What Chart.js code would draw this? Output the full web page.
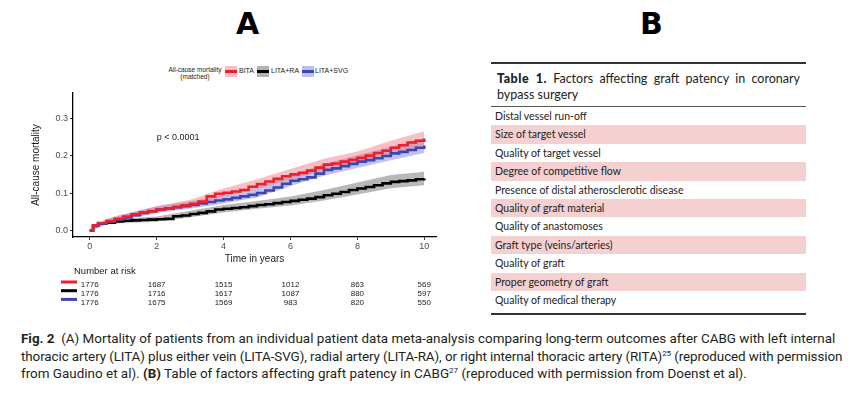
<!DOCTYPE html>
<html>
<head>
<meta charset="utf-8">
<script src="https://cdn.jsdelivr.net/npm/chart.js@4.4.1/dist/chart.umd.min.js"></script>
<style>
  html, body { margin: 0; padding: 0; background: #fff; }
  body { width: 867px; height: 394px; position: relative; overflow: hidden; font-family: "Liberation Sans", Arial, sans-serif; }
  .panel-letter { position: absolute; top: 6px; font-family: "DejaVu Sans", sans-serif; font-weight: 900; font-size: 30px; color: #000; }
  #chartBox { position: absolute; left: 30px; top: 55px; width: 430px; height: 260px; }
  .lg { position: absolute; font-size: 7px; color: #222; white-space: nowrap; }
  .key { position: absolute; width: 12px; height: 11px; }
  .key i { position: absolute; left: 0; right: 0; top: 4px; height: 3px; }
  #tbl { position: absolute; left: 491px; top: 62px; width: 315px; font-family: Lato, "Open Sans", sans-serif; color: #222; }
  #tbl .rule-top { border-top: 2px solid #333; }
  #tbl .ttl { padding: 7px 6px 0 6px; font-size: 12.5px; line-height: 16px; text-align: justify; height: 35px; }
  #tbl .ttl b { font-weight: 900; letter-spacing: 0.5px; }
  #tbl .rule-mid { border-top: 1px solid #555; }
  #tbl .row { height: 18.4px; line-height: 18.4px; font-size: 10.5px; padding-left: 4px; white-space: nowrap; }
  #tbl .row.pink { background: #f4d1d0; }
  #tbl .rule-bot { border-top: 2px solid #333; margin-top: 4px; }
  .cap { position: absolute; left: 21px; font-family: "Liberation Sans Narrow", Roboto, sans-serif; font-size: 13.45px; color: #231f20; white-space: nowrap; }
  .cap sup { font-size: 8px; vertical-align: 5px; line-height: 0; }
</style>
</head>
<body>

<div class="panel-letter" style="left:236px;">A</div>
<div class="panel-letter" style="left:640px;">B</div>

<!-- legend of panel A -->
<div class="lg" style="left:166px; top:66px; width:58px; text-align:center; font-size:6.5px; line-height:7px;">All-cause mortality<br>(matched)</div>
<div class="key" style="left:225px; top:66px; background:rgba(240,110,120,0.45);"><i style="background:#e8212b;"></i></div>
<div class="lg" style="left:239px; top:67px;">BITA</div>
<div class="key" style="left:257px; top:66px; background:rgba(0,0,0,0.3);"><i style="background:#000;"></i></div>
<div class="lg" style="left:271px; top:67px;">LITA+RA</div>
<div class="key" style="left:302px; top:66px; background:rgba(110,110,210,0.45);"><i style="background:#3c46b3;"></i></div>
<div class="lg" style="left:315px; top:67px;">LITA+SVG</div>

<div id="chartBox"><canvas id="km" width="430" height="260"></canvas></div>

<!-- panel B -->
<div id="tbl">
  <div class="rule-top"></div>
  <div class="ttl"><b>Table 1.</b> Factors affecting graft patency in coronary bypass surgery</div>
  <div class="rule-mid"></div>
  <div id="rows"></div>
  <div class="rule-bot"></div>
</div>

<div class="cap" style="top:331px;"><b>Fig. 2</b>&nbsp; (A) Mortality of patients from an individual patient data meta-analysis comparing long-term outcomes after CABG with left internal</div>
<div class="cap" style="top:348.5px; letter-spacing:-0.1px;">thoracic artery (LITA) plus either vein (LITA-SVG), radial artery (LITA-RA), or right internal thoracic artery (RITA)<sup>25</sup> (reproduced with permission</div>
<div class="cap" style="top:366px;">from Gaudino et al). <b>(B)</b> Table of factors affecting graft patency in CABG<sup>27</sup> (reproduced with permission from Doenst et al).</div>

<script>
// time points (years) of the survival curves
const years = [0, 0.1, 0.25, 0.5, 0.75, 1, 1.25, 1.5, 1.75, 2, 2.25, 2.5, 2.75, 3, 3.25, 3.5, 3.75, 4,
  4.25, 4.5, 4.75, 5, 5.25, 5.5, 5.75, 6, 6.25, 6.5, 6.75, 7, 7.25, 7.5, 7.75, 8, 8.25, 8.5, 8.75, 9,
  9.25, 9.5, 9.75, 10];

const bita = [0, 0.014, 0.020, 0.025, 0.031, 0.037, 0.043, 0.048, 0.051, 0.056, 0.059, 0.063, 0.067, 0.071,
  0.077, 0.091, 0.098, 0.101, 0.104, 0.108, 0.117, 0.124, 0.131, 0.138, 0.145, 0.150, 0.154, 0.160, 0.168,
  0.176, 0.179, 0.184, 0.189, 0.194, 0.200, 0.207, 0.213, 0.221, 0.228, 0.235, 0.240, 0.246];
const litaRa = [0, 0.013, 0.018, 0.021, 0.024, 0.026, 0.027, 0.028, 0.029, 0.030, 0.031, 0.038, 0.040, 0.044,
  0.047, 0.051, 0.056, 0.058, 0.060, 0.062, 0.065, 0.068, 0.070, 0.073, 0.076, 0.079, 0.082, 0.085, 0.089,
  0.094, 0.098, 0.103, 0.108, 0.112, 0.116, 0.121, 0.126, 0.130, 0.132, 0.134, 0.137, 0.139];
const litaSvg = [0, 0.012, 0.018, 0.024, 0.030, 0.035, 0.041, 0.047, 0.052, 0.056, 0.059, 0.062, 0.065, 0.068,
  0.072, 0.076, 0.080, 0.083, 0.087, 0.091, 0.095, 0.100, 0.107, 0.115, 0.125, 0.133, 0.137, 0.142, 0.152,
  0.162, 0.166, 0.172, 0.178, 0.184, 0.188, 0.193, 0.199, 0.206, 0.210, 0.215, 0.221, 0.227];

// confidence bands
const bandYears = [0, 0.5, 1, 2, 3, 4, 5, 6, 7, 8, 9, 10];
const bitaLo = [0, 0.020, 0.030, 0.048, 0.062, 0.090, 0.111, 0.136, 0.160, 0.177, 0.203, 0.228];
const bitaHi = [0, 0.031, 0.044, 0.065, 0.082, 0.112, 0.137, 0.164, 0.192, 0.211, 0.240, 0.265];
const raLo = [0, 0.016, 0.020, 0.023, 0.035, 0.048, 0.058, 0.067, 0.080, 0.096, 0.113, 0.121];
const raHi = [0, 0.026, 0.032, 0.037, 0.053, 0.068, 0.079, 0.091, 0.108, 0.128, 0.148, 0.157];
const svgLo = [0, 0.019, 0.028, 0.047, 0.058, 0.072, 0.088, 0.119, 0.146, 0.167, 0.188, 0.207];
const svgHi = [0, 0.030, 0.042, 0.065, 0.078, 0.095, 0.113, 0.147, 0.178, 0.201, 0.224, 0.247];

// number at risk
const riskYears = [0, 2, 4, 6, 8, 10];
const riskBita = [1776, 1687, 1515, 1012, 863, 569];
const riskRa = [1776, 1716, 1617, 1087, 880, 597];
const riskSvg = [1776, 1675, 1569, 983, 820, 550];

const xTicks = [0, 2, 4, 6, 8, 10];
const yTicks = [0, 0.1, 0.2, 0.3];

const factors = [
  "Distal vessel run-off",
  "Size of target vessel",
  "Quality of target vessel",
  "Degree of competitive flow",
  "Presence of distal atherosclerotic disease",
  "Quality of graft material",
  "Quality of anastomoses",
  "Graft type (veins/arteries)",
  "Quality of graft",
  "Proper geometry of graft",
  "Quality of medical therapy"
];

const RED = '#e8212b', BLACK = '#000000', BLUE = '#3c46b3';

document.getElementById('rows').innerHTML = factors
  .map((f, i) => `<div class="row${i % 2 ? ' pink' : ''}">${f}</div>`)
  .join('');

const pts = (xs, ys) => xs.map((x, i) => ({ x: x, y: ys[i] }));

function band(lo, hi, color, order) {
  return [
    { data: pts(bandYears, lo), borderWidth: 0, pointRadius: 0, fill: false, order: order },
    { data: pts(bandYears, hi), borderWidth: 0, pointRadius: 0, fill: '-1', backgroundColor: color, order: order }
  ];
}

function curve(ys, color, order) {
  return { data: pts(years, ys), borderColor: color, borderWidth: 2.6, pointRadius: 0, stepped: true, fill: false, order: order };
}

// p-value and risk table drawn with the chart scales
const extras = {
  id: 'extras',
  afterDraw(chart) {
    const { ctx, chartArea, scales } = chart;
    ctx.save();
    ctx.fillStyle = '#1a1a1a';
    ctx.font = '9px "Liberation Sans", Arial';
    ctx.textBaseline = 'middle';
    ctx.textAlign = 'left';
    ctx.fillText('p < 0.0001', scales.x.getPixelForValue(2), scales.y.getPixelForValue(0.249));

    const b = chartArea.bottom;
    ctx.font = '9.5px "Liberation Sans", Arial';
    ctx.fillText('Number at risk', 44, b + 34);

    const rows = [[riskBita, RED], [riskRa, BLACK], [riskSvg, BLUE]];
    ctx.font = '8px "Liberation Sans", Arial';
    ctx.textAlign = 'center';
    rows.forEach(([vals, col], r) => {
      const y = b + 48 + r * 8.7;
      ctx.fillStyle = col;
      ctx.fillRect(31, y - 4.5, 16, 3);
      ctx.fillStyle = '#222';
      vals.forEach((v, i) => ctx.fillText(String(v), scales.x.getPixelForValue(riskYears[i]), y));
    });
    ctx.restore();
  }
};

new Chart(document.getElementById('km'), {
  type: 'line',
  data: {
    datasets: [
      curve(bita, RED, 1),
      curve(litaSvg, BLUE, 2),
      curve(litaRa, BLACK, 3),
      ...band(bitaLo, bitaHi, 'rgba(240,115,125,0.45)', 4),
      ...band(svgLo, svgHi, 'rgba(110,110,210,0.42)', 5),
      ...band(raLo, raHi, 'rgba(0,0,0,0.28)', 6)
    ]
  },
  options: {
    responsive: false,
    animation: false,
    devicePixelRatio: 1,
    layout: { padding: { top: 38, right: 24, bottom: 50, left: 0 } },
    plugins: { legend: { display: false }, tooltip: { enabled: false } },
    elements: { line: { tension: 0 } },
    scales: {
      x: {
        type: 'linear',
        min: -0.5,
        max: 10.35,
        afterBuildTicks: s => { s.ticks = xTicks.map(v => ({ value: v })); },
        afterFit: s => { s.height = 28; },
        grid: { drawOnChartArea: false, tickLength: 3, tickColor: '#333' },
        border: { color: '#000', width: 1.3 },
        ticks: { color: '#4d4d4d', font: { size: 9, family: '"Liberation Sans", Arial' }, padding: 1, maxRotation: 0 },
        title: { display: true, text: 'Time in years', color: '#1a1a1a', font: { size: 10, family: '"Liberation Sans", Arial' }, padding: 0 }
      },
      y: {
        min: -0.0175,
        max: 0.3675,
        afterBuildTicks: s => { s.ticks = yTicks.map(v => ({ value: v })); },
        afterFit: s => { s.width = 43; },
        grid: { drawOnChartArea: false, tickLength: 3, tickColor: '#333' },
        border: { color: '#000', width: 1.3 },
        ticks: { color: '#4d4d4d', font: { size: 9, family: '"Liberation Sans", Arial' }, padding: 2, callback: v => v.toFixed(1) },
        title: { display: true, text: 'All-cause mortality', color: '#1a1a1a', font: { size: 10, family: '"Liberation Sans", Arial' }, padding: 0 }
      }
    }
  },
  plugins: [extras]
});
</script>
</body>
</html>
